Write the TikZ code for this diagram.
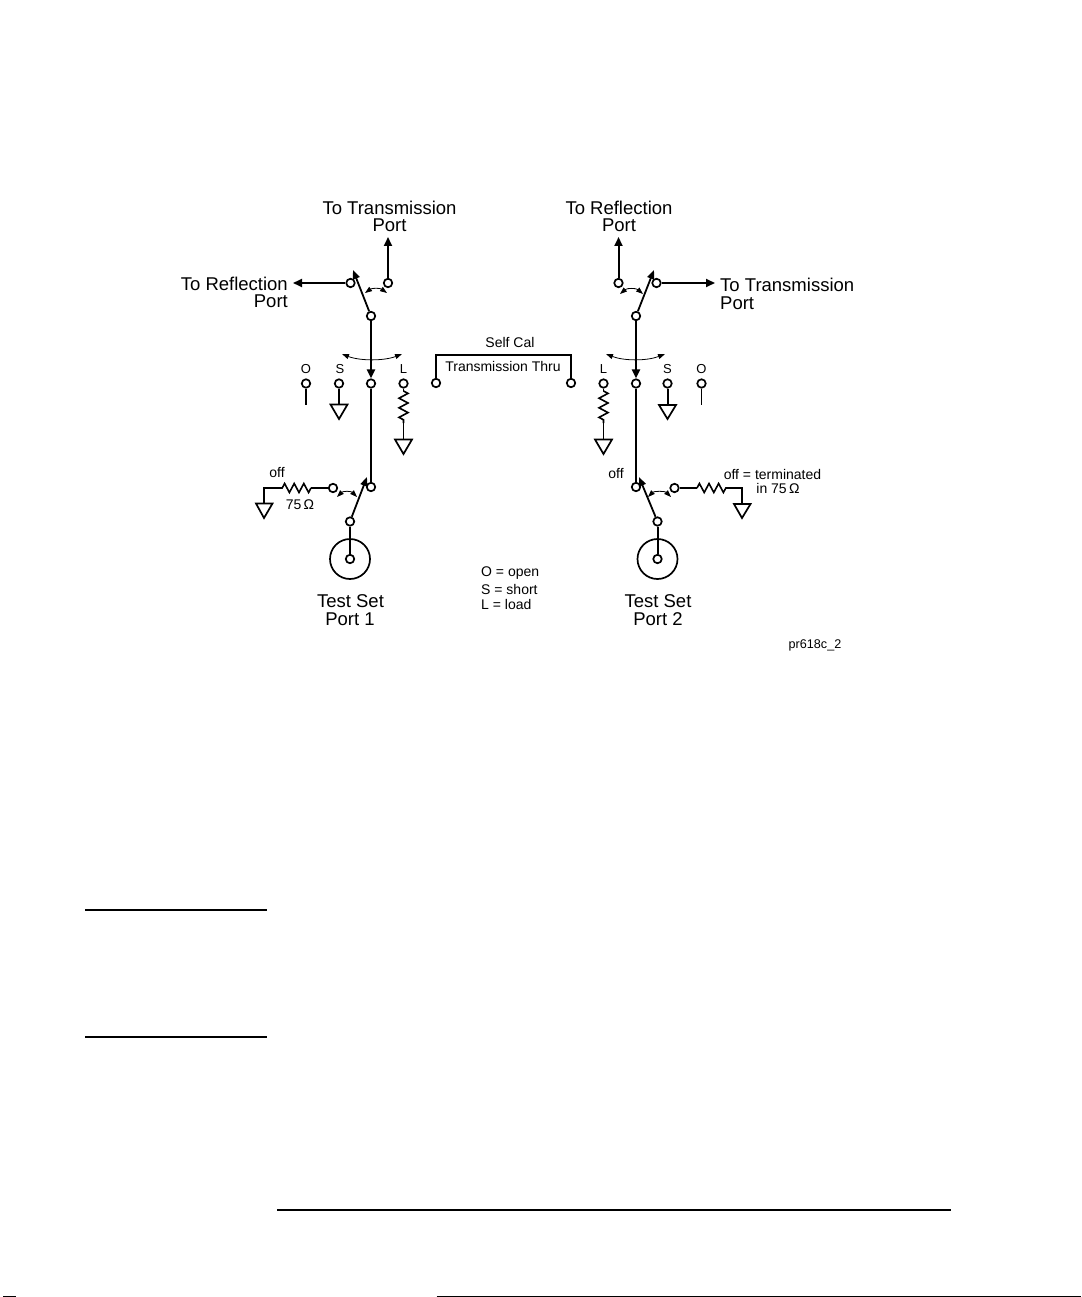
\documentclass[tikz,border=0pt]{standalone}
\usepackage{fontspec}
\setmainfont{Liberation Sans}
\usetikzlibrary{arrows.meta,decorations.pathmorphing}
\tikzset{
  term/.style={circle,draw=black,fill=white,line width=1.7pt,minimum size=8.5pt,inner sep=0pt},
  wire/.style={line width=2pt,black},
  thinwire/.style={line width=1.6pt,black},
  feed/.style={wire,-{Triangle[length=9pt,width=8pt]}},
  blade/.style={line width=1.8pt,black,-{Triangle[length=9pt,width=7pt]},shorten <=0pt},
  swing/.style={line width=.8pt,black,{Triangle[length=7pt,width=5pt]}-{Triangle[length=7pt,width=5pt]}},
  res/.style={line width=1.6pt,black,decorate,decoration={zigzag,segment length=9.6pt,amplitude=4.5pt}},
  gnd/.style={line width=1.7pt,black,line join=miter},
  big/.style={inner sep=0pt,font=\fontsize{18.5}{20}\selectfont},
  mid/.style={inner sep=0pt,font=\fontsize{14}{15}\selectfont},
  small/.style={inner sep=0pt,font=\fontsize{13}{14}\selectfont},
  tiny/.style={inner sep=0pt,font=\fontsize{12.6}{14}\selectfont},
  page/.style={line width=2pt,black}
}
\begin{document}
\begin{tikzpicture}[x=1pt,y=-1pt]
\useasboundingbox (0,0) rectangle (1081,1297);
% ---------- Port 1 side
\node[term] (lRefl) at (350.5,283) {};
\node[term] (lTran) at (388,283) {};
\node[term] (lPiv) at (371,316) {};
\node[term] (lO) at (306,383.5) {};
\node[term] (lS) at (339,383.5) {};
\node[term] (lC) at (371,383.5) {};
\node[term] (lL) at (403.5,383.5) {};
\node[term] (lOut) at (371,487) {};
\node[term] (lOff) at (333,488) {};
\node[term] (lBase) at (350,521.5) {};
\node[circle,draw=black,line width=1.7pt,minimum size=40pt,inner sep=0pt] (lPort) at (350,559) {};
\node[term] (lCore) at (350,559) {};
\coordinate (lReflEnd) at (293,283);
\coordinate (lTranEnd) at (388,237);
\coordinate (lTip) at (353,270);
\coordinate (lOEnd) at (306,405);
\coordinate (lSg) at (339,404.5);
\coordinate (lR1) at (403.5,391);
\coordinate (lR2) at (403.5,423);
\coordinate (lLg) at (403.5,439.5);
\coordinate (lR3) at (311,488);
\coordinate (lR4) at (278,488);
\coordinate (lCorner) at (264,488);
\coordinate (lOffg) at (264,503.5);
\draw[feed] (lRefl) -- (lReflEnd);
\draw[feed] (lTran) -- (lTranEnd);
\draw[blade] (lPiv) -- (lTip);
\draw[swing] (365,293) .. controls (372,288) and (380,288) .. (387,293);
\draw[feed] (lPiv) -- (lC);
\draw[swing] (342,354) .. controls (360,361) and (384,361) .. (402,354);
\draw[wire] (lC) -- (lOut);
\draw[thinwire] (lO) -- (lOEnd);
\draw[wire] (lS) -- (lSg);
\draw[gnd] (330.5,404.5) -- (347.5,404.5) -- (339,419) -- cycle;
\draw[thinwire] (lL) -- (lR1);
\draw[res] (lR1) -- (lR2);
\draw[thinwire] (lR2) -- (lLg);
\draw[gnd] (395,439.5) -- (412,439.5) -- (403.5,454) -- cycle;
\draw[blade] (lBase) -- (367,477);
\draw[swing] (337,497) .. controls (343,491) and (351,491) .. (357,497);
\draw[thinwire] (lOff) -- (lR3);
\draw[res] (lR3) -- (lR4);
\draw[thinwire] (lR4) -- (lCorner) -- (lOffg);
\draw[gnd] (256,503.5) -- (272.5,503.5) -- (264,518) -- cycle;
\draw[wire] (lBase) -- (lCore);
\node[big] (t1) at (389.5,207.5) {To Transmission};
\node[big] (t2) at (389.5,225.5) {Port};
\node[big,anchor=east] (t3) at (288,283.5) {To Reflection};
\node[big,anchor=east] (t4) at (288,301.5) {Port};
\node[small] (t0) at (306,369.5) {O};
\node[small] (t5) at (340,369.5) {S};
\node[small] (t6) at (403.5,369.5) {L};
\node[mid] (t7) at (277,472) {off};
\node[mid] (t8) at (300,504.5) {75\,Ω};
\node[big] (t9) at (350.5,601) {Test Set};
\node[big] (t10) at (350,619) {Port 1};
% ---------- centre
\node[term] (thruA) at (436,383) {};
\node[term] (thruB) at (571,383) {};
\draw[wire] (thruA) |- (503,355) -| (thruB);
\node[mid] (c1) at (510,342.5) {Self Cal};
\node[mid] (c2) at (503,366) {Transmission Thru};
\node[mid,anchor=west] (c3) at (481,573.5) {O = open};
\node[mid,anchor=west] (c4) at (481,589) {S = short};
\node[mid,anchor=west] (c5) at (481,604.5) {L = load};
% ---------- Port 2 side
\node[term] (rRefl) at (618.5,283) {};
\node[term] (rTran) at (656.5,283) {};
\node[term] (rPiv) at (636,316) {};
\node[term] (rL) at (603.5,383.5) {};
\node[term] (rC) at (636,383.5) {};
\node[term] (rS) at (667.5,383.5) {};
\node[term] (rO) at (701.5,383.5) {};
\node[term] (rOut) at (636,487) {};
\node[term] (rOff) at (674.5,488) {};
\node[term] (rBase) at (657.5,521.5) {};
\node[circle,draw=black,line width=1.7pt,minimum size=40pt,inner sep=0pt] (rPort) at (657.5,559) {};
\node[term] (rCore) at (657.5,559) {};
\coordinate (rReflEnd) at (618.5,237);
\coordinate (rTranEnd) at (715,283);
\coordinate (rTip) at (654,270);
\coordinate (rR1) at (603.5,391);
\coordinate (rR2) at (603.5,423);
\coordinate (rLg) at (603.5,439.5);
\coordinate (rSg) at (667.5,405);
\coordinate (rOEnd) at (701.5,405);
\coordinate (rR3) at (697,488);
\coordinate (rR4) at (729,488);
\coordinate (rCorner) at (742,488);
\coordinate (rOffg) at (742,504);
\draw[feed] (rRefl) -- (rReflEnd);
\draw[feed] (rTran) -- (rTranEnd);
\draw[blade] (rPiv) -- (rTip);
\draw[swing] (620,294) .. controls (627,288) and (636,288) .. (643,294);
\draw[feed] (rPiv) -- (rC);
\draw[swing] (606,354) .. controls (624,361) and (647,361) .. (665,354);
\draw[wire] (rC) -- (rOut);
\draw[thinwire] (rL) -- (rR1);
\draw[res] (rR1) -- (rR2);
\draw[thinwire] (rR2) -- (rLg);
\draw[gnd] (595,439.5) -- (612,439.5) -- (603.5,454) -- cycle;
\draw[wire] (rS) -- (rSg);
\draw[gnd] (659,405) -- (676,405) -- (667.5,419) -- cycle;
\draw[thinwire] (rO) -- (rOEnd);
\draw[blade] (rBase) -- (639,477);
\draw[swing] (648,497) .. controls (654,491) and (665,491) .. (671,497);
\draw[thinwire] (rOff) -- (rR3);
\draw[res] (rR3) -- (rR4);
\draw[thinwire] (rR4) -- (rCorner) -- (rOffg);
\draw[gnd] (734,504) -- (750.5,504) -- (742,518) -- cycle;
\draw[wire] (rBase) -- (rCore);
\node[big] (u1) at (619,207.5) {To Reflection};
\node[big] (u2) at (619,225.5) {Port};
\node[big,anchor=west] (u3) at (720,285) {To Transmission};
\node[big,anchor=west] (u4) at (720,303) {Port};
\node[small] (u0) at (701.5,369.5) {O};
\node[small] (u5) at (603.5,369.5) {L};
\node[small] (u6) at (667.5,369.5) {S};
\node[mid] (u7) at (616,473) {off};
\node[mid] (u8) at (772.5,474.5) {off = terminated};
\node[mid] (u9) at (778,488.5) {in 75\,Ω};
\node[big] (u10) at (658,601) {Test Set};
\node[big] (u11) at (658,619) {Port 2};
\node[tiny] (u12) at (815,645) {pr618c\_2};
% ---------- page rules
\coordinate (p1a) at (85,910); \coordinate (p1b) at (267,910);
\coordinate (p2a) at (85,1037); \coordinate (p2b) at (267,1037);
\coordinate (p3a) at (277,1209.5); \coordinate (p3b) at (951,1209.5);
\coordinate (p4a) at (436.5,1296.5); \coordinate (p4b) at (1081,1296.5);
\coordinate (p5a) at (3,1296.5); \coordinate (p5b) at (16,1296.5);
\draw[page] (p1a) -- (p1b);
\draw[page] (p2a) -- (p2b);
\draw[page] (p3a) -- (p3b);
\draw[line width=1pt] (p4a) -- (p4b);
\draw[line width=1pt] (p5a) -- (p5b);
\end{tikzpicture}
\end{document}
